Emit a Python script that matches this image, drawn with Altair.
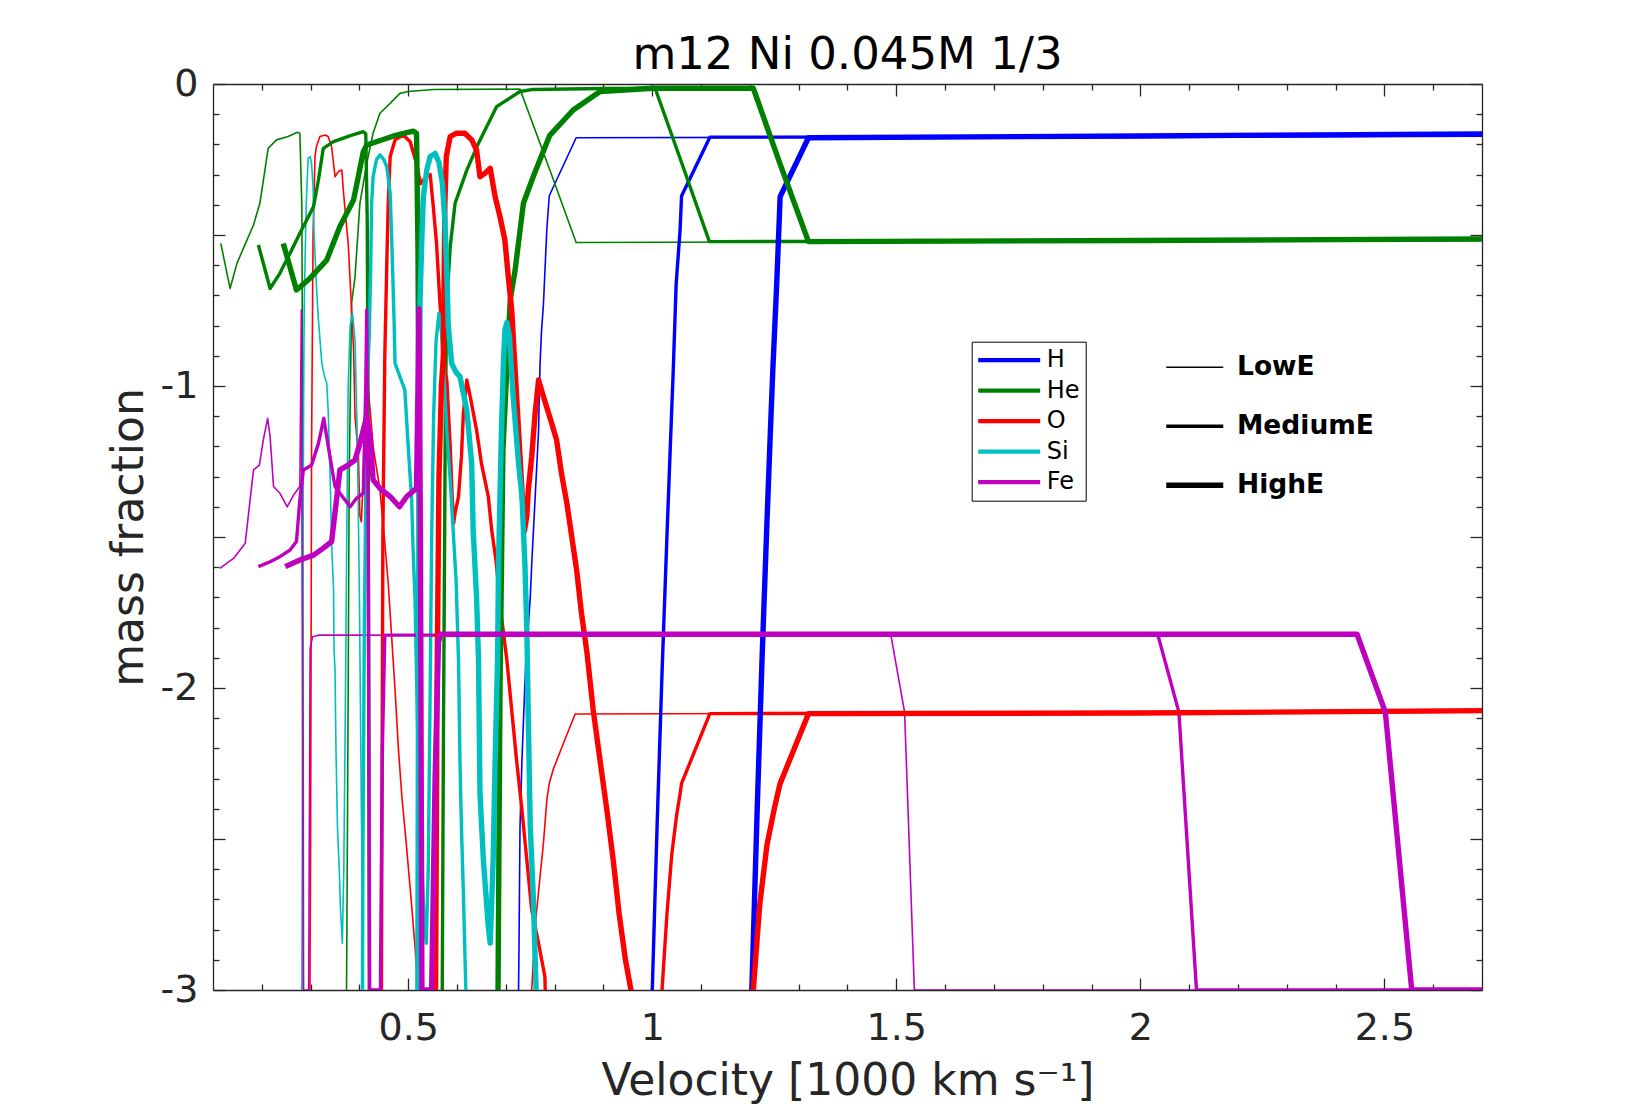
import altair as alt
import pandas as pd

TITLE = "m12 Ni 0.045M 1/3"
X_TITLE = "Velocity [1000 km s\u207b\u00b9]"
Y_TITLE = "mass fraction"

ELEMENTS = ["H", "He", "O", "Si", "Fe"]
ELEMENT_COLORS = ["#0000ff", "#008000", "#ff0000", "#00bfbf", "#bf00bf"]
ENERGIES = ["LowE", "MediumE", "HighE"]
ENERGY_WIDTHS = [1.6, 3.4, 5.4]

X_DOMAIN = [0.1, 2.7]
Y_DOMAIN = [-3, 0]
X_LABEL_TICKS = [0.5, 1, 1.5, 2, 2.5]
Y_LABEL_TICKS = [0, -1, -2, -3]
X_MAJOR_TICKS = [0.5, 1.0, 1.5, 2.0, 2.5]
Y_MAJOR_TICKS = [0, -0.5, -1, -1.5, -2, -2.5, -3]
X_MINOR_TICKS = [0.2, 0.3, 0.4, 0.6, 0.7, 0.8, 0.9, 1.1, 1.2, 1.3, 1.4, 1.6, 1.7,
                 1.8, 1.9, 2.1, 2.2, 2.3, 2.4, 2.6]
Y_MINOR_TICKS = [-0.1, -0.2, -0.3, -0.4, -0.6, -0.7, -0.8, -0.9, -1.1, -1.2, -1.3,
                 -1.4, -1.6, -1.7, -1.8, -1.9, -2.1, -2.2, -2.3, -2.4, -2.6, -2.7,
                 -2.8, -2.9]

# ---- series: (velocity, log mass fraction) ----
H_LOW = [(0.722, -3.6), (0.727, -2.85), (0.729, -2.46), (0.733, -2.24), (0.737, -2.07),
         (0.741, -1.91), (0.750, -1.70), (0.753, -1.59), (0.760, -1.37), (0.767, -1.15),
         (0.770, -0.93), (0.773, -0.82), (0.777, -0.73), (0.784, -0.48), (0.789, -0.37),
         (0.844, -0.178), (1.5, -0.176), (2.7, -0.172)]
H_MED = [(0.996, -3.6), (1.0, -3.0), (1.01, -2.45), (1.02, -1.95), (1.03, -1.5),
         (1.037, -1.2), (1.043, -0.947), (1.049, -0.66), (1.057, -0.483), (1.06, -0.371),
         (1.118, -0.176), (2.0, -0.174), (2.7, -0.17)]
H_HIGH = [(1.2, -3.6), (1.204, -3.0), (1.215, -2.4), (1.225, -1.9), (1.235, -1.45),
          (1.242, -1.15), (1.247, -0.947), (1.255, -0.66), (1.262, -0.373), (1.32, -0.178),
          (2.0, -0.172), (2.7, -0.165)]

HE_LOW = [(0.116, -0.528), (0.135, -0.677), (0.149, -0.594), (0.166, -0.53), (0.183, -0.467),
          (0.196, -0.395), (0.205, -0.30), (0.213, -0.213), (0.23, -0.185), (0.254, -0.174),
          (0.273, -0.16), (0.278, -0.163), (0.282, -0.406), (0.284, -1.2), (0.286, -3.6),
          (0.371, -3.6), (0.374, -2.9), (0.377, -2.0), (0.379, -1.3), (0.384, -0.726),
          (0.391, -0.638), (0.401, -0.395), (0.415, -0.263), (0.428, -0.163), (0.442, -0.097),
          (0.463, -0.064), (0.483, -0.031), (0.5, -0.025), (0.552, -0.018), (0.729, -0.017),
          (0.789, -0.28), (0.844, -0.525), (1.5, -0.522), (2.7, -0.515)]
HE_MED = [(0.193, -0.533), (0.217, -0.677), (0.237, -0.627), (0.258, -0.56), (0.278, -0.494),
          (0.306, -0.406), (0.316, -0.318), (0.326, -0.213), (0.347, -0.191), (0.38, -0.172),
          (0.408, -0.158), (0.413, -0.165), (0.416, -0.45), (0.418, -1.2), (0.421, -3.6),
          (0.568, -3.6), (0.572, -2.2), (0.576, -1.1), (0.579, -0.726), (0.586, -0.539),
          (0.596, -0.395), (0.62, -0.285), (0.644, -0.196), (0.681, -0.075), (0.729, -0.025),
          (0.756, -0.018), (0.9, -0.015), (1.006, -0.015), (1.06, -0.26), (1.117, -0.522),
          (2.0, -0.52), (2.7, -0.515)]
HE_HIGH = [(0.244, -0.528), (0.271, -0.682), (0.299, -0.643), (0.333, -0.583), (0.36, -0.472),
           (0.388, -0.384), (0.408, -0.224), (0.415, -0.202), (0.435, -0.191), (0.47, -0.172),
           (0.51, -0.156), (0.517, -0.163), (0.52, -0.55), (0.522, -1.2), (0.525, -3.6),
           (0.681, -3.6), (0.684, -3.0), (0.688, -2.0), (0.694, -1.21), (0.709, -0.715),
           (0.719, -0.616), (0.736, -0.395), (0.756, -0.307), (0.79, -0.17), (0.838, -0.086),
           (0.893, -0.025), (1.002, -0.014), (1.207, -0.014), (1.262, -0.265), (1.32, -0.522),
           (2.0, -0.518), (2.7, -0.513)]

O_LOW = [(0.297, -3.6), (0.300, -2.5), (0.302, -1.2), (0.305, -0.5), (0.309, -0.24),
         (0.312, -0.207), (0.319, -0.174), (0.33, -0.169), (0.336, -0.174), (0.343, -0.207),
         (0.35, -0.307), (0.357, -0.29), (0.364, -0.285), (0.367, -0.351), (0.37, -0.406),
         (0.377, -0.528), (0.384, -0.748), (0.388, -0.881), (0.391, -1.101), (0.398, -1.234),
         (0.401, -1.43), (0.404, -1.45), (0.408, -1.3), (0.413, -1.1), (0.417, -0.99),
         (0.422, -1.08), (0.428, -1.2), (0.442, -1.344), (0.451, -1.5), (0.459, -1.653),
         (0.466, -1.83), (0.473, -2.006), (0.48, -2.205), (0.487, -2.36), (0.494, -2.48),
         (0.5, -2.59), (0.507, -2.72), (0.514, -2.86), (0.52, -3.0), (0.526, -3.6),
         (0.748, -3.6), (0.753, -3.0), (0.76, -2.79), (0.77, -2.625), (0.777, -2.514),
         (0.784, -2.37), (0.789, -2.316), (0.797, -2.27), (0.818, -2.183), (0.842, -2.086),
         (1.5, -2.083), (2.7, -2.077)]
O_MED = [(0.444, -3.6), (0.446, -2.5), (0.448, -1.5), (0.452, -0.9), (0.456, -0.6),
         (0.459, -0.395), (0.463, -0.24), (0.473, -0.185), (0.49, -0.169), (0.504, -0.191),
         (0.517, -0.263), (0.525, -0.33), (0.535, -0.31), (0.545, -0.30), (0.551, -0.4),
         (0.558, -0.528), (0.565, -0.726), (0.575, -0.947), (0.579, -0.98), (0.586, -1.2),
         (0.59, -1.366), (0.593, -1.455), (0.596, -1.42), (0.603, -1.366), (0.609, -1.234),
         (0.613, -1.09), (0.62, -0.98), (0.627, -1.035), (0.64, -1.146), (0.65, -1.256),
         (0.657, -1.311), (0.664, -1.366), (0.671, -1.477), (0.68, -1.58), (0.69, -1.75),
         (0.702, -1.907), (0.712, -2.073), (0.722, -2.24), (0.733, -2.404), (0.743, -2.57),
         (0.753, -2.735), (0.767, -2.845), (0.78, -2.956), (0.79, -3.6), (1.015, -3.6),
         (1.02, -3.0), (1.03, -2.75), (1.04, -2.55), (1.05, -2.42), (1.057, -2.35),
         (1.06, -2.316), (1.118, -2.085), (2.0, -2.082), (2.7, -2.077)]
O_HIGH = [(0.553, -3.6), (0.556, -3.0), (0.559, -2.0), (0.563, -1.3), (0.568, -1.0),
          (0.572, -0.9), (0.575, -0.4), (0.578, -0.24), (0.586, -0.174), (0.599, -0.163),
          (0.616, -0.163), (0.63, -0.185), (0.64, -0.219), (0.647, -0.307), (0.657, -0.296),
          (0.668, -0.279), (0.678, -0.373), (0.688, -0.439), (0.698, -0.517), (0.705, -0.638),
          (0.712, -0.748), (0.719, -0.947), (0.726, -1.146), (0.733, -1.344), (0.738, -1.48),
          (0.743, -1.43), (0.746, -1.344), (0.753, -1.234), (0.76, -1.09), (0.767, -0.98),
          (0.777, -1.035), (0.794, -1.124), (0.804, -1.179), (0.814, -1.289), (0.825, -1.388),
          (0.835, -1.499), (0.845, -1.609), (0.855, -1.753), (0.866, -1.88), (0.879, -2.073),
          (0.893, -2.24), (0.907, -2.404), (0.92, -2.57), (0.932, -2.746), (0.945, -2.9),
          (0.962, -3.05), (0.97, -3.6), (1.2, -3.6), (1.207, -3.0), (1.22, -2.72),
          (1.235, -2.52), (1.25, -2.4), (1.257, -2.35), (1.262, -2.316), (1.32, -2.085),
          (2.0, -2.083), (2.7, -2.075)]

SI_LOW = [(0.281, -3.6), (0.283, -2.5), (0.285, -1.3), (0.286, -0.95), (0.287, -0.726),
          (0.291, -0.395), (0.295, -0.246), (0.299, -0.24), (0.302, -0.263), (0.305, -0.34),
          (0.307, -0.494), (0.312, -0.671), (0.316, -0.781), (0.323, -0.925), (0.328, -0.965),
          (0.333, -0.991), (0.336, -1.08), (0.34, -1.3), (0.343, -1.521), (0.347, -1.675),
          (0.348, -1.874), (0.35, -1.94), (0.352, -2.205), (0.355, -2.46), (0.359, -2.614),
          (0.361, -2.724), (0.365, -2.845), (0.368, -2.6), (0.371, -2.1), (0.374, -1.5),
          (0.377, -1.0), (0.381, -0.8), (0.386, -0.76), (0.391, -0.85), (0.396, -1.2),
          (0.4, -1.7), (0.404, -2.4), (0.408, -3.0), (0.411, -3.6)]
SI_MED = [(0.405, -3.6), (0.407, -2.6), (0.41, -1.8), (0.414, -1.2), (0.417, -0.95),
          (0.42, -0.837), (0.423, -0.616), (0.425, -0.395), (0.428, -0.307), (0.435, -0.25),
          (0.442, -0.235), (0.45, -0.25), (0.456, -0.274), (0.463, -0.362), (0.466, -0.505),
          (0.468, -0.616), (0.471, -0.781), (0.473, -0.925), (0.483, -0.969), (0.493, -1.013),
          (0.5, -1.2), (0.507, -1.377), (0.51, -1.543), (0.514, -1.709), (0.516, -1.874),
          (0.52, -2.2), (0.526, -2.5), (0.532, -2.75), (0.537, -2.845), (0.541, -2.6),
          (0.545, -2.0), (0.548, -1.5), (0.552, -1.1), (0.557, -0.85), (0.563, -0.76),
          (0.568, -0.82), (0.572, -0.925), (0.579, -1.146), (0.586, -1.311), (0.592, -1.477),
          (0.598, -1.642), (0.603, -1.907), (0.606, -2.24), (0.609, -2.46), (0.613, -2.68),
          (0.618, -3.0), (0.62, -3.6)]
SI_HIGH = [(0.519, -3.6), (0.521, -2.0), (0.523, -1.2), (0.524, -0.726), (0.528, -0.505),
           (0.531, -0.373), (0.538, -0.285), (0.545, -0.24), (0.555, -0.23), (0.563, -0.26),
           (0.57, -0.33), (0.575, -0.45), (0.579, -0.62), (0.582, -0.8), (0.589, -0.925),
           (0.598, -0.955), (0.606, -0.969), (0.62, -1.08), (0.63, -1.256), (0.633, -1.477),
           (0.64, -1.7), (0.644, -1.907), (0.647, -2.35), (0.654, -2.57), (0.664, -2.79),
           (0.668, -2.845), (0.674, -2.57), (0.678, -2.24), (0.683, -1.907), (0.685, -1.587),
           (0.688, -1.366), (0.691, -1.146), (0.695, -0.925), (0.698, -0.815), (0.702, -0.79),
           (0.707, -0.83), (0.715, -1.035), (0.726, -1.256), (0.733, -1.366), (0.739, -1.587),
           (0.743, -1.808), (0.746, -2.1), (0.75, -2.46), (0.756, -2.68), (0.762, -3.0),
           (0.765, -3.6)]

FE_LOW = [(0.114, -1.604), (0.142, -1.571), (0.166, -1.521), (0.176, -1.377), (0.183, -1.278),
          (0.195, -1.262), (0.203, -1.179), (0.212, -1.107), (0.217, -1.168), (0.224, -1.333),
          (0.237, -1.355), (0.252, -1.4), (0.265, -1.361), (0.278, -1.333), (0.281, -0.748),
          (0.285, -3.0), (0.296, -3.0), (0.299, -1.87), (0.304, -1.83), (0.316, -1.825),
          (1.0, -1.826), (1.489, -1.826), (1.517, -2.08), (1.537, -3.0), (2.7, -3.0)]
FE_MED = [(0.193, -1.598), (0.217, -1.582), (0.237, -1.565), (0.258, -1.543), (0.271, -1.515),
          (0.278, -1.377), (0.285, -1.278), (0.302, -1.262), (0.316, -1.19), (0.327, -1.107),
          (0.333, -1.168), (0.343, -1.267), (0.35, -1.333), (0.36, -1.355), (0.381, -1.4),
          (0.394, -1.372), (0.408, -1.355), (0.413, -1.0), (0.415, -0.748), (0.418, -1.5),
          (0.421, -3.0), (0.443, -3.0), (0.447, -2.2), (0.452, -1.825), (1.0, -1.825),
          (2.036, -1.825), (2.079, -2.08), (2.115, -3.0), (2.7, -3.0)]
FE_HIGH = [(0.248, -1.598), (0.278, -1.576), (0.306, -1.56), (0.326, -1.537), (0.343, -1.515),
           (0.353, -1.377), (0.36, -1.278), (0.377, -1.262), (0.391, -1.245), (0.401, -1.19),
           (0.415, -1.101), (0.422, -1.168), (0.428, -1.311), (0.442, -1.339), (0.463, -1.366),
           (0.482, -1.4), (0.497, -1.366), (0.517, -1.339), (0.52, -1.0), (0.522, -0.745),
           (0.525, -1.5), (0.528, -3.0), (0.548, -3.0), (0.555, -2.3), (0.562, -1.85),
           (0.566, -1.822), (1.0, -1.822), (2.444, -1.822), (2.502, -2.08), (2.556, -3.0),
           (2.7, -3.0)]

SERIES = [
    ("H", "LowE", H_LOW), ("He", "LowE", HE_LOW), ("O", "LowE", O_LOW),
    ("Si", "LowE", SI_LOW), ("Fe", "LowE", FE_LOW),
    ("H", "MediumE", H_MED), ("He", "MediumE", HE_MED), ("O", "MediumE", O_MED),
    ("Si", "MediumE", SI_MED), ("Fe", "MediumE", FE_MED),
    ("H", "HighE", H_HIGH), ("He", "HighE", HE_HIGH), ("O", "HighE", O_HIGH),
    ("Si", "HighE", SI_HIGH), ("Fe", "HighE", FE_HIGH),
]

rows = []
for el, en, pts in SERIES:
    for i, (v, m) in enumerate(pts):
        rows.append({"element": el, "energy": en, "v": v, "m": m, "i": i})
df = pd.DataFrame(rows)
frame_df = pd.DataFrame({"v": X_DOMAIN, "m": Y_DOMAIN})

FONT = "DejaVu Sans"
AX = "#262626"
W, H = 1269, 906

xscale = alt.Scale(domain=X_DOMAIN, nice=False, zero=False)
yscale = alt.Scale(domain=Y_DOMAIN, nice=False, zero=False)

lines = alt.Chart(df).mark_line(clip=True, strokeJoin="round").encode(
    x=alt.X("v:Q", scale=xscale, axis=alt.Axis(
        orient="bottom", values=X_LABEL_TICKS, ticks=False, grid=False,
        domainColor=AX, domainWidth=1.3, labelFont=FONT, labelFontSize=38,
        labelColor=AX, labelPadding=19, labelFlush=False, labelOverlap=False,
        labelExpr="'' + datum.value", title=X_TITLE, titleFont=FONT,
        titleFontSize=44, titleFontWeight="normal", titleColor=AX,
        titleX=W / 2, titleY=104, titleBaseline="alphabetic", titleAlign="center")),
    y=alt.Y("m:Q", scale=yscale, axis=alt.Axis(
        orient="left", values=Y_LABEL_TICKS, ticks=False, grid=False,
        domainColor=AX, domainWidth=1.3, labelFont=FONT, labelFontSize=38,
        labelColor=AX, labelPadding=15, labelFlush=False, labelOverlap=False,
        labelExpr="'' + datum.value", title=Y_TITLE, titleFont=FONT,
        titleFontSize=44, titleFontWeight="normal", titleColor=AX, titleAngle=270,
        titleX=-71, titleY=H / 2, titleBaseline="alphabetic", titleAlign="center")),
    color=alt.Color("element:N", scale=alt.Scale(domain=ELEMENTS, range=ELEMENT_COLORS),
                    legend=alt.Legend(
                        orient="none", legendX=758.7, legendY=257.7, title=None,
                        symbolType="M-3,0H3", symbolSize=427, symbolStrokeWidth=4.3,
                        labelFont=FONT, labelFontSize=24, labelColor="black",
                        symbolOffset=19, labelOffset=25, rowPadding=5.5, padding=6,
                        strokeColor="black", fillColor="white")),
    strokeWidth=alt.StrokeWidth("energy:O",
                                scale=alt.Scale(type="ordinal", domain=ENERGIES, range=ENERGY_WIDTHS),
                                legend=alt.Legend(
                                    orient="none", legendX=951, legendY=270, title=None,
                                    symbolType="M-3,0H3", symbolSize=361,
                                    symbolStrokeColor="black", labelFont=FONT,
                                    labelFontSize=26.5, labelFontWeight="bold",
                                    labelColor="black", symbolOffset=17.5, labelOffset=29,
                                    rowPadding=32, padding=0)),
    order=alt.Order("i:Q"),
)


def tick_layer(xorient, yorient, xvals, yvals, size, domain):
    return alt.Chart(frame_df).mark_point(opacity=0).encode(
        x=alt.X("v:Q", scale=xscale, axis=alt.Axis(
            orient=xorient, offset=-H, values=xvals, tickSize=size, tickColor=AX,
            tickWidth=1.3, labels=False, domain=domain, domainColor=AX, domainWidth=1.3,
            grid=False, title=None)),
        y=alt.Y("m:Q", scale=yscale, axis=alt.Axis(
            orient=yorient, offset=-W, values=yvals, tickSize=size, tickColor=AX,
            tickWidth=1.3, labels=False, domain=domain, domainColor=AX, domainWidth=1.3,
            grid=False, title=None)),
    )


t1 = tick_layer("top", "right", X_MAJOR_TICKS, Y_MAJOR_TICKS, 12, False)
t2 = tick_layer("top", "right", X_MINOR_TICKS, Y_MINOR_TICKS, 6, False)
t3 = tick_layer("bottom", "left", X_MAJOR_TICKS, Y_MAJOR_TICKS, 12, True)
t4 = tick_layer("bottom", "left", X_MINOR_TICKS, Y_MINOR_TICKS, 6, False)

chart = alt.layer(t1, t2, t3, t4, lines).resolve_axis(
    x="independent", y="independent"
).properties(
    width=W, height=H,
    padding={"left": 205, "top": 76, "right": 140, "bottom": 116},
    autosize=alt.AutoSizeParams(type="none"),
    background="white",
    title=alt.TitleParams(TITLE, font=FONT, fontSize=45, fontWeight="normal",
                          color="black", anchor="middle", frame="group",
                          baseline="alphabetic", offset=0, dy=49),
).configure_view(stroke=None)

chart.save("out.html", embed_options={"renderer": "svg", "actions": False})
